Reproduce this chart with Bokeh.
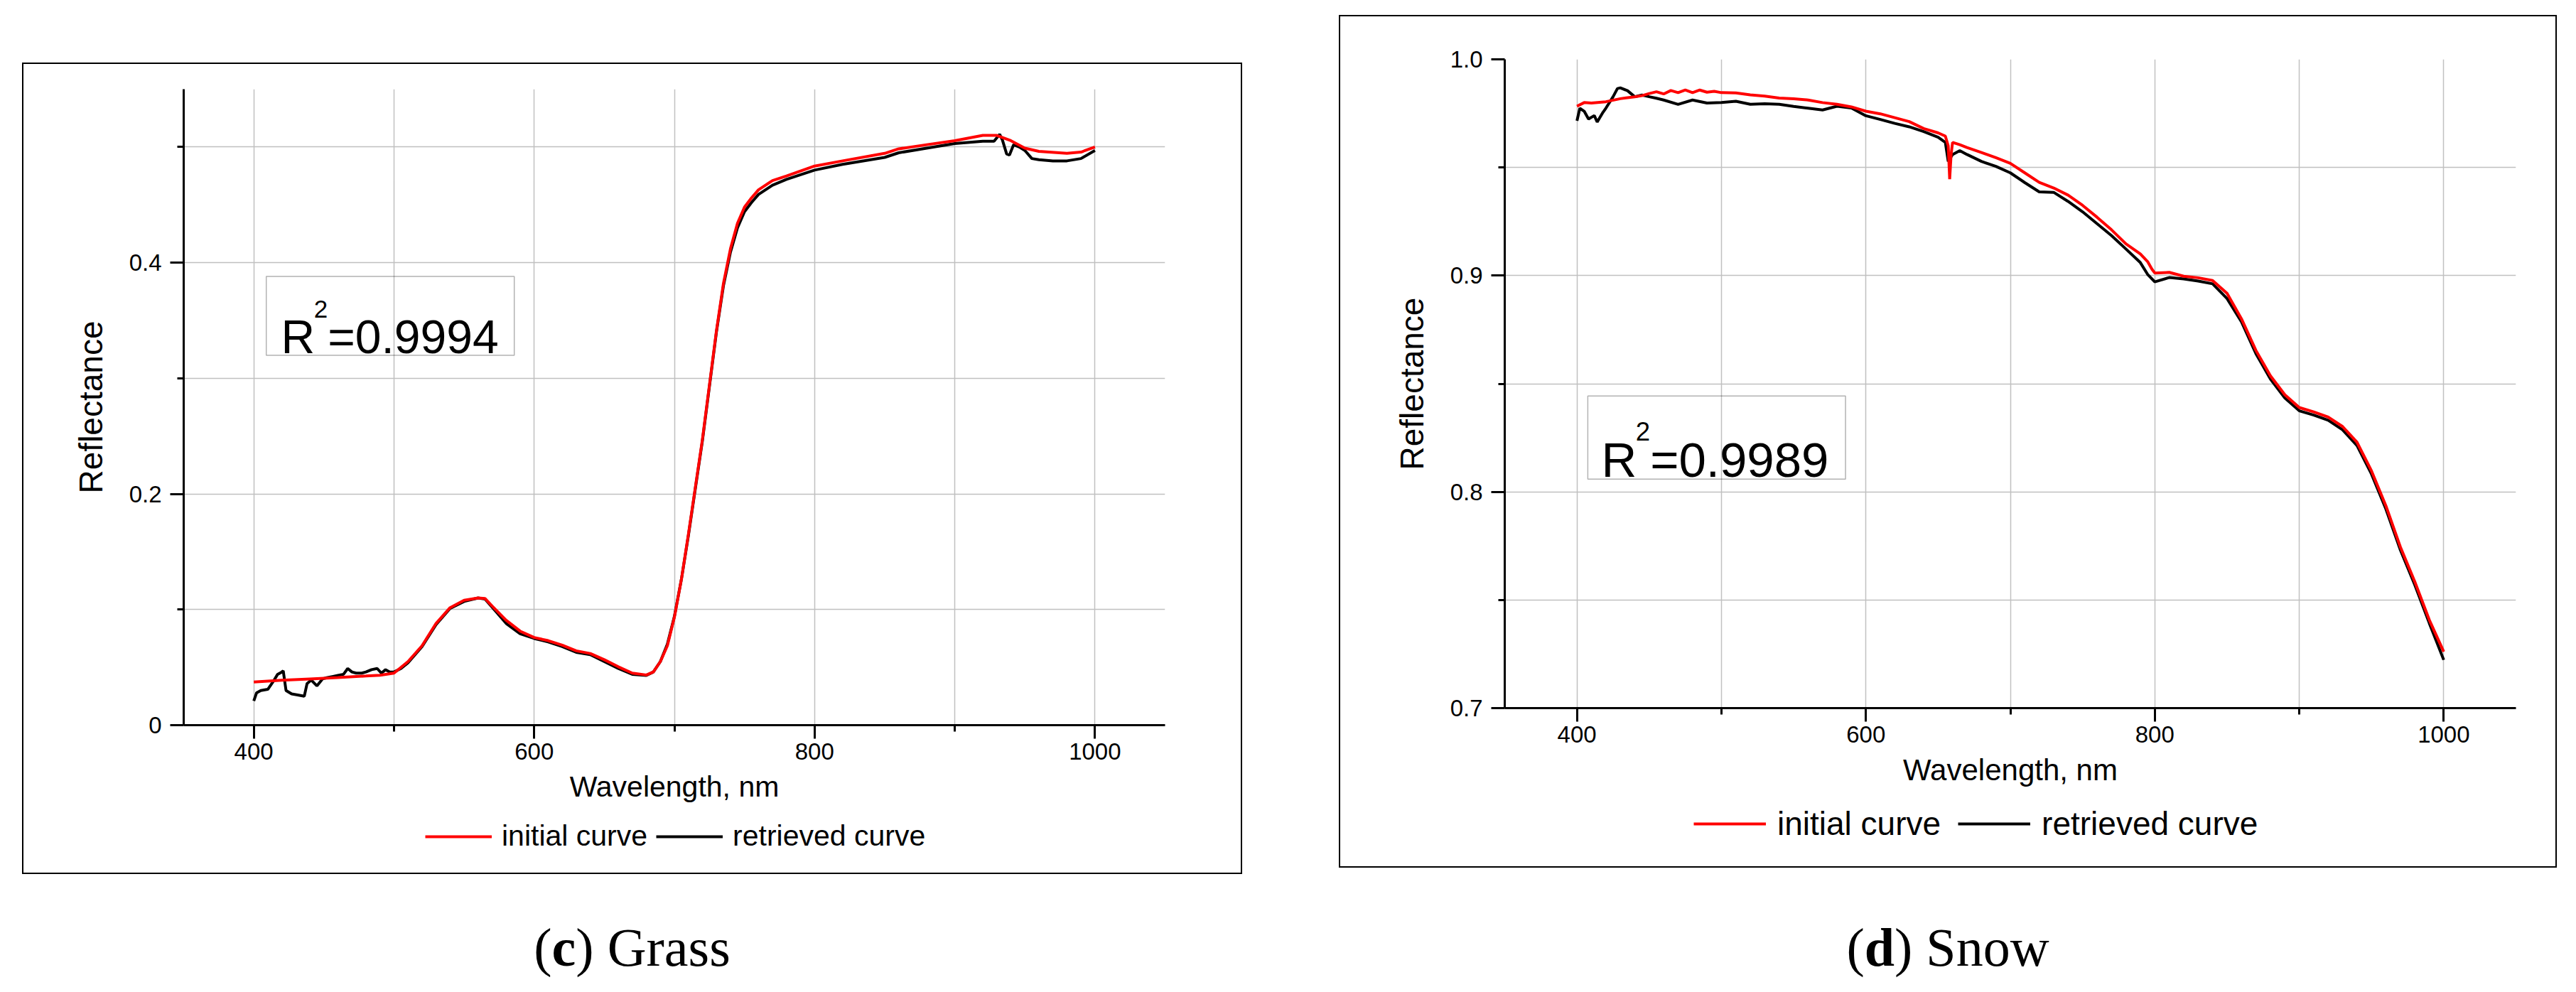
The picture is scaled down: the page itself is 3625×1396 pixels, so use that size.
from bokeh.plotting import figure
from bokeh.models import (FixedTicker, Legend, LegendItem, Label, BoxAnnotation,
                          Div, Spacer, Range1d, CustomJSTickFormatter)
from bokeh.layouts import row, column
from bokeh.embed import file_html
from bokeh.resources import INLINE

# ---------------- data: (c) Grass ----------------
grass_init_wl = [400, 420, 440, 460, 480, 490, 500, 510, 520, 530, 540, 550, 560, 565, 570, 580,
                 590, 600, 610, 620, 630, 640, 650, 660, 670, 680, 685, 690, 695, 700, 705, 710,
                 715, 720, 725, 730, 735, 740, 745, 750, 755, 760, 770, 780, 800, 820, 850, 860,
                 880, 900, 920, 930, 940, 950, 960, 980, 990, 1000]
grass_init_r = [0.0374, 0.0388, 0.0400, 0.0412, 0.0425, 0.0432, 0.0450, 0.0550, 0.0687, 0.0880,
                0.1016, 0.1080, 0.1100, 0.1095, 0.1030, 0.0907, 0.0813, 0.0758, 0.0731, 0.0692,
                0.0643, 0.0620, 0.0566, 0.0505, 0.0450, 0.0434, 0.0460, 0.0550, 0.0687, 0.0934,
                0.1260, 0.1650, 0.2060, 0.2470, 0.2940, 0.3410, 0.3820, 0.4120, 0.4340, 0.4480,
                0.4560, 0.4630, 0.4710, 0.4750, 0.4835, 0.4880, 0.4945, 0.4984, 0.5020, 0.5055,
                0.5100, 0.5100, 0.5055, 0.4990, 0.4962, 0.4945, 0.4956, 0.5000]
grass_retr_wl = [400, 402, 405, 410, 414, 417, 420, 421, 423, 427, 432, 436, 438, 441, 445, 449,
                 452, 456, 460, 464, 467, 470, 473, 477, 480, 484, 488, 491, 494, 497, 500, 505,
                 510, 520, 530, 540, 550, 560, 565, 570, 580, 590, 600, 610, 620, 630, 640, 650,
                 660, 670, 680, 685, 690, 695, 700, 705, 710, 715, 720, 725, 730, 735, 740, 745,
                 750, 755, 760, 770, 780, 800, 820, 850, 860, 880, 900, 920, 928, 932, 934, 937,
                 939, 942, 946, 950, 955, 960, 970, 980, 990, 1000]
grass_retr_r = [0.021, 0.028, 0.030, 0.031, 0.038, 0.044, 0.046, 0.047, 0.030, 0.027, 0.026,
                0.025, 0.036, 0.039, 0.034, 0.040, 0.041, 0.042, 0.043, 0.044, 0.049, 0.046,
                0.045, 0.045, 0.046, 0.048, 0.049, 0.045, 0.048, 0.046, 0.046, 0.049, 0.054,
                0.068, 0.087, 0.101, 0.107, 0.110, 0.109, 0.102, 0.088, 0.079, 0.075, 0.072,
                0.068, 0.063, 0.061, 0.055, 0.049, 0.044, 0.043, 0.046, 0.055, 0.070, 0.094,
                0.126, 0.164, 0.205, 0.246, 0.293, 0.340, 0.380, 0.409, 0.430, 0.444, 0.452,
                0.459, 0.467, 0.472, 0.480, 0.485, 0.491, 0.495, 0.499, 0.503, 0.505, 0.505,
                0.511, 0.506, 0.494, 0.493, 0.502, 0.500, 0.497, 0.490, 0.489, 0.488, 0.488,
                0.490, 0.497]

# ---------------- data: (d) Snow ----------------
snow_init_wl = [400, 405, 410, 420, 430, 440, 445, 450, 455, 460, 465, 470, 475, 480, 485, 490,
                495, 500, 510, 520, 530, 540, 550, 560, 570, 580, 590, 600, 610, 620, 630, 640,
                650, 655, 657, 658, 659, 660, 665, 670, 680, 690, 700, 710, 720, 730, 740, 750,
                760, 770, 780, 790, 795, 798, 800, 810, 820, 830, 840, 850, 860, 870, 880, 890,
                900, 910, 920, 930, 940, 950, 960, 970, 980, 990, 1000]
snow_init_r = [0.9783, 0.9800, 0.9798, 0.9804, 0.9818, 0.9827, 0.9832, 0.9842, 0.9850, 0.9840,
               0.9856, 0.9846, 0.9858, 0.9846, 0.9858, 0.9848, 0.9852, 0.9846, 0.9845, 0.9836,
               0.9830, 0.9821, 0.9818, 0.9812, 0.9800, 0.9792, 0.9780, 0.9760, 0.9748, 0.9730,
               0.9712, 0.9680, 0.9660, 0.9645, 0.9600, 0.9446, 0.9560, 0.9616, 0.9605, 0.9592,
               0.9569, 0.9545, 0.9519, 0.9475, 0.9431, 0.9405, 0.9372, 0.9325, 0.9270, 0.9212,
               0.9147, 0.9100, 0.9065, 0.9030, 0.9012, 0.9015, 0.8997, 0.8990, 0.8977, 0.8918,
               0.8800, 0.8654, 0.8537, 0.8449, 0.8390, 0.8370, 0.8346, 0.8302, 0.8229, 0.8097,
               0.7935, 0.7745, 0.7584, 0.7408, 0.7261]
snow_retr_wl = [400, 402, 405, 408, 412, 414, 418, 420, 425, 428, 430, 435, 440, 445, 450, 455,
                460, 470, 480, 490, 500, 510, 520, 530, 540, 550, 560, 570, 580, 590, 600, 610,
                620, 630, 640, 650, 655, 657, 660, 665, 670, 680, 690, 700, 710, 720, 730, 740,
                750, 760, 770, 780, 790, 795, 800, 810, 820, 830, 840, 850, 860, 870, 880, 890,
                900, 910, 920, 930, 940, 950, 960, 970, 980, 990, 1000]
snow_retr_r = [0.9716, 0.9774, 0.9760, 0.9724, 0.9740, 0.9710, 0.9755, 0.9774, 0.9827, 0.9865,
               0.9868, 0.9855, 0.9827, 0.9835, 0.9827, 0.9820, 0.9812, 0.9792, 0.9812, 0.9798,
               0.9800, 0.9806, 0.9792, 0.9795, 0.9792, 0.9782, 0.9774, 0.9766, 0.9783, 0.9775,
               0.9739, 0.9722, 0.9704, 0.9688, 0.9666, 0.9640, 0.9616, 0.9528, 0.9560, 0.9578,
               0.9560, 0.9528, 0.9505, 0.9475, 0.9430, 0.9387, 0.9385, 0.9343, 0.9295, 0.9240,
               0.9185, 0.9123, 0.9060, 0.9006, 0.8971, 0.8991, 0.8985, 0.8975, 0.8962, 0.8894,
               0.8786, 0.8639, 0.8522, 0.8434, 0.8375, 0.8355, 0.8331, 0.8287, 0.8214, 0.8082,
               0.7920, 0.7731, 0.7569, 0.7393, 0.7223]

# ticks
x_major = [400, 600, 800, 1000]
x_minor = [500, 700, 900]
grass_y_major = [0, 0.2, 0.4]
grass_y_minor = [0.1, 0.3, 0.5]
snow_y_major = [0.7, 0.8, 0.9, 1.0]
snow_y_minor = [0.75, 0.85, 0.95]
series_names = ["initial curve", "retrieved curve"]
series_colors = ["#ff0000", "#000000"]

FONT = "Liberation Sans"
GRID = "#c0c0c0"
BORDER = "2px solid black"


def make_panel(init_wl, init_r, retr_wl, retr_r, y_rng, y_major, y_minor, r2_text,
               box, anchor, fw, fh, mb, font_sizes):
    p = figure(frame_width=fw, frame_height=fh, output_backend="svg", toolbar_location=None,
               x_range=Range1d(350, 1050), y_range=Range1d(*y_rng),
               min_border_left=mb[0], min_border_right=mb[1],
               min_border_top=mb[2], min_border_bottom=mb[3])
    p.outline_line_color = None
    p.background_fill_color = "white"
    p.border_fill_color = "white"
    p.styles = {"border": BORDER, "border-bottom": "none"}

    xt = FixedTicker(ticks=x_major, minor_ticks=x_minor)
    yt = FixedTicker(ticks=y_major, minor_ticks=y_minor)
    p.xaxis.ticker = xt
    p.yaxis.ticker = yt
    p.xgrid.ticker = xt
    p.ygrid.ticker = yt
    for g in (p.xgrid, p.ygrid):
        g.grid_line_color = GRID
        g.grid_line_width = 1.5
        g.minor_grid_line_color = GRID
        g.minor_grid_line_width = 1.5
    p.yaxis.formatter = CustomJSTickFormatter(code="return tick === 0 ? '0' : tick.toFixed(1);")

    for ax in (p.xaxis[0], p.yaxis[0]):
        ax.axis_line_width = 3
        ax.axis_line_color = "black"
        ax.major_tick_line_width = 3
        ax.minor_tick_line_width = 3
        ax.major_tick_line_color = "black"
        ax.minor_tick_line_color = "black"
        ax.major_tick_in = 0
        ax.major_tick_out = 19
        ax.minor_tick_in = 0
        ax.minor_tick_out = 9
        ax.major_label_text_font = FONT
        ax.major_label_text_font_size = "33px"
        ax.major_label_text_color = "black"
        ax.axis_label_text_font = FONT
        ax.axis_label_text_font_style = "normal"
        ax.axis_label_text_color = "black"
    p.xaxis.axis_label = "Wavelength, nm"
    p.yaxis.axis_label = "Reflectance"
    p.xaxis.axis_label_text_font_size = font_sizes[0]
    p.yaxis.axis_label_text_font_size = font_sizes[1]
    p.xaxis.major_label_standoff = 6
    p.yaxis.major_label_standoff = 12
    p.xaxis.axis_label_standoff = 12
    p.yaxis.axis_label_standoff = 25

    p.line(retr_wl, retr_r, line_color=series_colors[1], line_width=4)
    p.line(init_wl, init_r, line_color=series_colors[0], line_width=4)

    p.add_layout(BoxAnnotation(left=box[0], right=box[1], bottom=box[2], top=box[3],
                               fill_alpha=0, line_color="black", line_width=1.5))
    fs = font_sizes[2]
    sup = fs * 0.53
    p.add_layout(Label(x=anchor[0], y=anchor[1], text="R", text_font=FONT, text_color="black",
                       text_font_size=f"{fs}px", text_baseline="alphabetic", text_align="left"))
    p.add_layout(Label(x=anchor[0], y=anchor[1], x_offset=0.70 * fs, y_offset=0.59 * fs,
                       text="2", text_font=FONT, text_font_size=f"{sup:.1f}px", text_color="black",
                       text_baseline="alphabetic", text_align="left"))
    p.add_layout(Label(x=anchor[0], y=anchor[1], x_offset=0.70 * fs + 0.556 * sup, y_offset=0,
                       text=r2_text, text_font=FONT, text_font_size=f"{fs}px", text_color="black",
                       text_baseline="alphabetic", text_align="left"))
    return p


def make_legend(series, fw, mb, height, loc, font_size, glyph_w, standoff, spacing):
    # legend strip under the axes, same horizontal geometry as the chart above it;
    # its range (0..1) excludes the data, so only the legend swatches are visible
    lf = figure(frame_width=fw, frame_height=height, output_backend="svg",
                toolbar_location=None, x_axis_type=None, y_axis_type=None,
                min_border_left=mb[0], min_border_right=mb[1],
                min_border_top=0, min_border_bottom=0,
                x_range=Range1d(0, 1), y_range=Range1d(0, 1))
    lf.outline_line_color = None
    lf.background_fill_color = "white"
    lf.border_fill_color = "white"
    lf.styles = {"border": BORDER, "border-top": "none"}
    items = []
    for name, col, (xs, ys) in zip(series_names, series_colors, series):
        r = lf.line(xs, ys, line_color=col, line_width=4)
        items.append(LegendItem(label=name, renderers=[r]))
    leg = Legend(items=items, orientation="horizontal", location=loc)
    leg.label_text_font = FONT
    leg.label_text_font_size = font_size
    leg.label_text_color = "black"
    leg.glyph_width = glyph_w
    leg.glyph_height = 10
    leg.label_height = 10
    leg.label_standoff = standoff
    leg.spacing = spacing
    leg.border_line_color = None
    leg.background_fill_alpha = 0
    leg.margin = 0
    leg.padding = 0
    lf.add_layout(leg)
    return lf


p1 = make_panel(grass_init_wl, grass_init_r, grass_retr_wl, grass_retr_r, (0, 0.55),
                grass_y_major, grass_y_minor, "=0.9994",
                box=(408.9, 585.8, 0.3198, 0.388), anchor=(419.5, 0.3357),
                fw=1377, fh=893, mb=(225, 111, 35, 130),
                font_sizes=("41px", "46px", 66))
l1 = make_legend([(grass_init_wl, grass_init_r), (grass_retr_wl, grass_retr_r)],
                 1377, (225, 111), 80, (340, 30), "41px", 94, 14, 12)

p2 = make_panel(snow_init_wl, snow_init_r, snow_retr_wl, snow_retr_r, (0.7, 1.0),
                snow_y_major, snow_y_minor, "=0.9989",
                box=(407.5, 585.9, 0.8059, 0.8443), anchor=(416.9, 0.8147),
                fw=1419, fh=911, mb=(231, 60, 60, 135),
                font_sizes=("42px", "46px", 69))
l2 = make_legend([(snow_init_wl, snow_init_r), (snow_retr_wl, snow_retr_r)],
                 1419, (231, 60), 90, (266, 35), "46px", 102, 16, 24)

CAP = {"font-family": "'Liberation Serif'", "font-size": "76px", "line-height": "90px",
       "text-align": "center", "color": "black"}
cap1 = Div(text="(<b>c</b>) Grass", width=1717, height=90, styles=CAP, margin=0)
cap2 = Div(text="(<b>d</b>) Snow", width=1714, height=90, styles=CAP, margin=0)

col1 = column(Spacer(width=1, height=88), p1, l1, Spacer(width=1, height=58), cap1)
col2 = column(Spacer(width=1, height=21), p2, l2, Spacer(width=1, height=67), cap2)
layout = row(Spacer(width=31, height=1), col1, Spacer(width=136, height=1), col2)

with open("out.html", "w") as f:
    f.write(file_html(layout, INLINE))
